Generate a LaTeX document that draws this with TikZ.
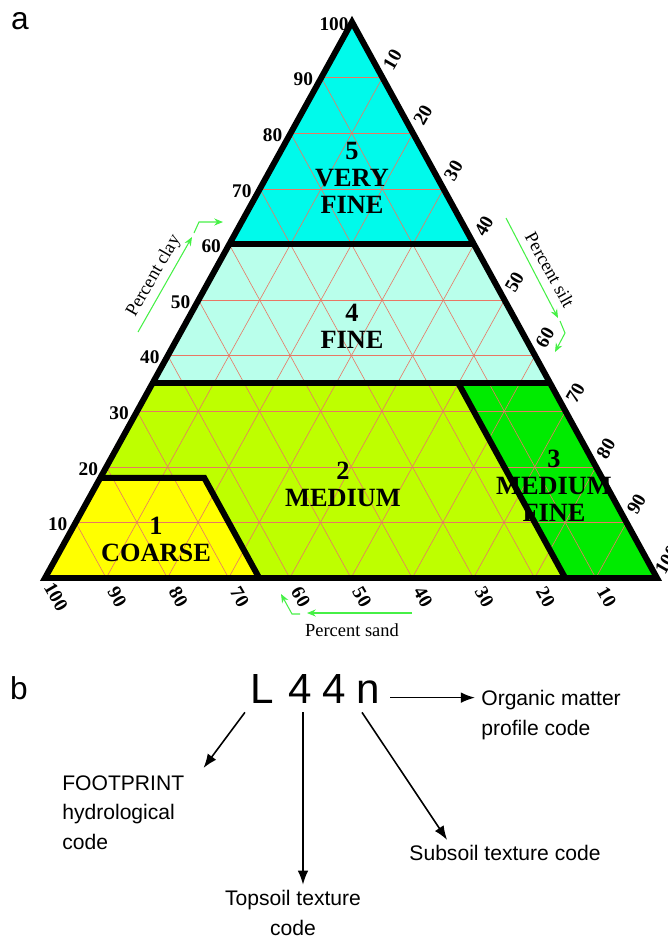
\documentclass[tikz,border=0pt]{standalone}
\usepackage{fontspec}
\setmainfont{Liberation Serif}
\newfontfamily\helv{Liberation Sans}
\usetikzlibrary{arrows.meta}

\definecolor{veryfine}{RGB}{0,250,235}
\definecolor{fine}{RGB}{185,255,235}
\definecolor{medium}{RGB}{190,255,0}
\definecolor{mediumfine}{RGB}{0,235,0}
\definecolor{coarse}{RGB}{255,255,0}
\definecolor{gridred}{RGB}{232,120,100}
\definecolor{axisgreen}{RGB}{70,240,70}

\tikzset{
  zone/.style={draw=black, line width=3.4pt, line join=miter},
  gridline/.style={draw=gridred, line width=0.35pt},
  tick/.style={font=\fontsize{11}{11}\selectfont\bfseries, inner sep=0pt},
  classlbl/.style={font=\fontsize{15}{15.4}\selectfont\bfseries, align=center, inner sep=0pt},
  axisarrow/.style={draw=axisgreen, line width=0.6pt, -{Stealth[length=5pt,width=4pt]}},
  axislbl/.style={font=\fontsize{10.5}{10.5}\selectfont, inner sep=0pt},
  panel/.style={font=\helv\fontsize{18}{18}\selectfont, inner sep=0pt},
  codebig/.style={font=\helv\fontsize{24}{24}\selectfont, inner sep=0pt, anchor=base},
  codetxt/.style={font=\helv\fontsize{12}{17}\selectfont, inner sep=0pt},
  codearrow/.style={line width=0.9pt, -{Latex[length=8pt,width=6pt]}}
}

\begin{document}
\begin{tikzpicture}[x=0.02cm,y=-0.02cm]
  \useasboundingbox (0,0) rectangle (668,938);

  \coordinate (L) at (45,578);
  \coordinate (R) at (657,578);
  \coordinate (T) at (352,22);
  \coordinate (c60l) at (barycentric cs:L=0.40,T=0.60);
  \coordinate (c60r) at (barycentric cs:R=0.40,T=0.60);
  \coordinate (c35l) at (barycentric cs:L=0.65,T=0.35);
  \coordinate (c35r) at (barycentric cs:R=0.65,T=0.35);
  \coordinate (c18l) at (barycentric cs:L=0.82,T=0.18);
  \coordinate (co18) at (barycentric cs:L=0.65,R=0.17,T=0.18);
  \coordinate (co0) at (barycentric cs:L=0.65,R=0.35);
  \coordinate (mf0) at (barycentric cs:L=0.15,R=0.85);
  \coordinate (mf35) at (barycentric cs:L=0.15,R=0.50,T=0.35);

  \fill[veryfine] (c60l) -- (T) -- (c60r) -- cycle;
  \fill[fine] (c35l) -- (c60l) -- (c60r) -- (c35r) -- cycle;
  \fill[medium] (c18l) -- (co18) -- (co0) -- (mf0) -- (mf35) -- (c35l) -- cycle;
  \fill[mediumfine] (mf0) -- (R) -- (c35r) -- (mf35) -- cycle;
  \fill[coarse] (L) -- (co0) -- (co18) -- (c18l) -- cycle;

  \foreach \k [evaluate=\k as \a using \k/100, evaluate=\k as \b using 1-\k/100] in {10,20,...,90} {
    \draw[gridline] (barycentric cs:L=\b,T=\a) -- (barycentric cs:R=\b,T=\a);
    \draw[gridline] (barycentric cs:L=\a,R=\b) -- (barycentric cs:L=\a,T=\b);
    \draw[gridline] (barycentric cs:R=\a,L=\b) -- (barycentric cs:R=\a,T=\b);
  }

  \draw[zone] (c60l) -- (c60r);
  \draw[zone] (c35l) -- (c35r);
  \draw[zone] (c18l) -- (co18) -- (co0);
  \draw[zone] (mf0) -- (mf35);
  \draw[zone] (L) -- (R) -- (T) -- cycle;

  \foreach \v [evaluate=\v as \a using \v/100, evaluate=\v as \b using 1-\v/100] in {10,20,...,100} {
    \node[tick] (clay\v) at ([shift={(-18,2)}]barycentric cs:L=\b,T=\a) {\v};
    \node[tick, rotate=60] (silt\v) at ([shift={(10,-18)}]barycentric cs:R=\a,T=\b) {\v};
    \node[tick, rotate=-60] (sand\v) at ([shift={(11,19)}]barycentric cs:L=\a,R=\b) {\v};
  }

  \node[axislbl, rotate=60] (pclay) at (154,276) {Percent clay};
  \node[axislbl, rotate=-61] (psilt) at (550,270) {Percent silt};
  \node[axislbl] (psand) at (352,630) {Percent sand};
  \draw[axisarrow] (138,332) -- (192,237);
  \draw[axisarrow] (194,233) -- (199,222) -- (223,222);
  \draw[axisarrow] (506,218) -- (558,318);
  \draw[axisarrow] (560,321) -- (565,333) -- (555,352);
  \draw[axisarrow] (412,613) -- (307,613);
  \draw[axisarrow] (300,614) -- (292,614) -- (281,594);

  \node[classlbl] (vfine) at (352,178) {5\\VERY\\FINE};
  \node[classlbl] (fine) at (352,326) {4\\FINE};
  \node[classlbl] (med) at (343,484) {2\\MEDIUM};
  \node[classlbl] (crs) at (156,539) {1\\COARSE};
  \node[classlbl] (medfine) at (554,486) {3\\MEDIUM\\FINE};

  \node[panel] (pa) at (20,21) {a};
  \node[panel] (pb) at (19,688) {b};

  \node[codebig] (cL) at (262,703) {L};
  \node[codebig] (c4a) at (300,703) {4};
  \node[codebig] (c4b) at (334,703) {4};
  \node[codebig] (cn) at (368,703) {n};

  \node[codetxt, anchor=north west, align=left] (org) at (481,690) {Organic matter\\profile code};
  \node[codetxt, anchor=north west, align=left] (foot) at (62,775) {FOOTPRINT\\hydrological\\code};
  \node[codetxt, anchor=north, align=center] (top) at (293,890) {Topsoil texture\\code};
  \node[codetxt] (sub) at (505,853) {Subsoil texture code};

  \coordinate (nmid) at ([yshift=-3.4pt]cn.east);
  \draw[codearrow, shorten <=5.7pt, shorten >=3.4pt] (nmid) -- (nmid -| org.west);
  \draw[codearrow] ([shift={(-5,9)}]cL.south west) -- ([shift={(19,-7)}]foot.north east);
  \draw[codearrow, shorten >=3pt] ([shift={(3,9)}]c4a.south) -- ([shift={(3,0)}]c4a.south |- top.north);
  \draw[codearrow] ([shift={(-6,9)}]cn.south) -- ([shift={(38,-5)}]sub.north west);
\end{tikzpicture}
\end{document}
